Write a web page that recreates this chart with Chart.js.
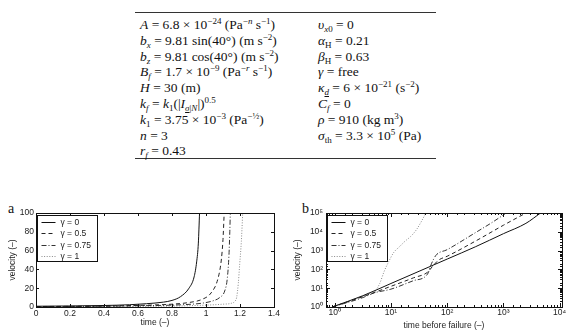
<!DOCTYPE html>
<html><head><meta charset="utf-8">
<script src="https://cdn.jsdelivr.net/npm/chart.js@4/dist/chart.umd.min.js"></script>
<style>
html,body{margin:0;padding:0;background:#fff;}
body{width:575px;height:331px;position:relative;overflow:hidden;font-family:"Liberation Serif",serif;color:#111;}
.rule{position:absolute;left:135px;width:301px;height:1px;background:#333;}
.col{position:absolute;top:17px;font-size:13.5px;line-height:15.8px;white-space:nowrap;}
.col div{height:15.8px;}
sup,sub{font-size:9px;line-height:0;position:relative;vertical-align:baseline;}
sup{top:-5px;} sub{top:3px;}
.pl{position:absolute;font-size:14px;font-family:"Liberation Serif",serif;}
canvas{position:absolute;}
</style>
</head><body>
<div class="rule" style="top:12px"></div>
<div class="rule" style="top:158px"></div>
<div class="col" style="left:140px">
<div><i>A</i> = 6.8 × 10<sup>−24</sup> (Pa<sup>−<i>n</i></sup> s<sup>−1</sup>)</div>
<div><i>b<sub>x</sub></i> = 9.81 sin(40°) (m s<sup>−2</sup>)</div>
<div><i>b<sub>z</sub></i> = 9.81 cos(40°) (m s<sup>−2</sup>)</div>
<div><i>B<sub>f</sub></i> = 1.7 × 10<sup>−9</sup> (Pa<sup>−<i>r</i></sup> s<sup>−1</sup>)</div>
<div><i>H</i> = 30 (m)</div>
<div><i>k<sub>f</sub></i> = <i>k</i><sub>1</sub>(|<i>I</i><sub><u><i>σ</i></u>|<i>N</i></sub>|)<sup>0.5</sup></div>
<div><i>k</i><sub>1</sub> = 3.75 × 10<sup>−3</sup> (Pa<sup>−½</sup>)</div>
<div><i>n</i> = 3</div>
<div><i>r<sub>f</sub></i> = 0.43</div>
</div>
<div class="col" style="left:318px">
<div><i>υ</i><sub><i>x</i>0</sub> = 0</div>
<div><i>α</i><sub>H</sub> = 0.21</div>
<div><i>β</i><sub>H</sub> = 0.63</div>
<div><i>γ</i> = free</div>
<div><i>κ</i><sub><u><i>d</i></u></sub> = 6 × 10<sup>−21</sup> (s<sup>−2</sup>)</div>
<div><i>C<sub>f</sub></i> = 0</div>
<div><i>ρ</i> = 910 (kg m<sup>3</sup>)</div>
<div><i>σ</i><sub>th</sub> = 3.3 × 10<sup>5</sup> (Pa)</div>
</div>
<div class="pl" style="left:8px;top:201px">a</div>
<div class="pl" style="left:302px;top:201px">b</div>
<canvas id="ca" width="287" height="131" style="left:0;top:200px"></canvas>
<canvas id="cb" width="290" height="131" style="left:285px;top:200px"></canvas>
<script>
// ---------- data ----------
const seriesLabels = ['γ = 0', 'γ = 0.5', 'γ = 0.75', 'γ = 1'];

// panel a: velocity vs time
const aTimeG0   = [0, 0.2, 0.4, 0.55, 0.65, 0.75, 0.8, 0.85, 0.9, 0.93, 0.945, 0.955, 0.962];
const aVelG0    = [0.8, 1.1, 1.6, 2.4, 3.5, 5.2, 7, 11, 20, 32, 48, 68, 100];
const aTimeG05  = [0, 0.3, 0.5, 0.7, 0.8, 0.9, 0.975, 1.03, 1.07, 1.09, 1.1, 1.107];
const aVelG05   = [0.5, 0.8, 1.3, 2.2, 3, 4.8, 8, 15, 30, 50, 72, 100];
const aTimeG075 = [0, 0.4, 0.6, 0.8, 0.9, 0.975, 1.04, 1.08, 1.11, 1.125, 1.135, 1.14, 1.143];
const aVelG075  = [0.3, 0.8, 1.3, 2, 2.8, 4, 6.5, 10, 17, 30, 55, 80, 100];
const aTimeG1   = [0, 0.5, 0.8, 1.0, 1.1, 1.15, 1.17, 1.18, 1.19, 1.198, 1.208, 1.216];
const aVelG1    = [0.2, 0.5, 1, 2, 3, 4, 6, 10, 25, 45, 70, 100];
const aXTicks = [0, 0.2, 0.4, 0.6, 0.8, 1, 1.2, 1.4];
const aXTickLabels = ['0', '0.2', '0.4', '0.6', '0.8', '1', '1.2', '1.4'];
const aYTicks = [0, 20, 40, 60, 80, 100];
const aYTickLabels = ['0', '20', '40', '60', '80', '100'];

// panel b: velocity vs time before failure (log-log)
const bTimeG0   = [0.9, 3.16, 10, 31.6, 100, 316, 1000, 2512, 4571];
const bVelG0    = [1, 3.98, 17.8, 79.4, 355, 1585, 7943, 28184, 100000];
const bTimeG05  = [0.9, 3.16, 10, 25.1, 44.7, 56.2, 70.8, 100, 316, 1000, 2512];
const bVelG05   = [1, 3.55, 12.6, 35.5, 70.8, 158, 316, 501, 3162, 22387, 100000];
const bTimeG075 = [0.9, 3.16, 5.01, 10, 25.1, 44.7, 52.5, 63.1, 100, 316, 631, 1122];
const bVelG075  = [1, 3.16, 5.62, 8.91, 25.1, 56.2, 200, 562, 1122, 8913, 31623, 100000];
const bTimeG1   = [0.9, 2.0, 3.98, 5.25, 6.31, 7.59, 8.91, 11.2, 14.1, 17.8, 22.4, 28.2, 35.5, 41.7];
const bVelG1    = [1, 2.24, 5.01, 7.08, 17.8, 79.4, 224, 794, 1585, 3162, 5623, 12589, 39811, 100000];
const bXTickLabels = ['10⁰', '10¹', '10²', '10³', '10⁴'];
const bYTickLabels = ['10⁰', '10¹', '10²', '10³', '10⁴', '10⁵'];

// ---------- styling ----------
const lineStyles = [
  {color:'#111', dash:[]},
  {color:'#222', dash:[4,3]},
  {color:'#333', dash:[5,2,1,2]},
  {color:'#8a8a8a', dash:[1,1.6]}
];
const tickFont = {family:'Liberation Sans', size:8.5};
const txtColor = '#222';

function pts(xs, ys){ return xs.map((x,i)=>({x:x, y:ys[i]})); }
function isPow10(v){ const l=Math.log10(v); return Math.abs(l-Math.round(l))<1e-6; }

function makeDatasets(pairs){
  return pairs.map((p,i)=>({
    label: seriesLabels[i],
    data: pts(p[0], p[1]),
    borderColor: lineStyles[i].color,
    borderDash: lineStyles[i].dash,
    borderWidth: 1,
    pointRadius: 0,
    fill: false,
    cubicInterpolationMode: 'monotone'
  }));
}

const matlabBox = {
  id: 'matlabBox',
  afterDatasetsDraw(chart, args, opts){
    const {ctx, chartArea: ca, scales} = chart;
    const xs = scales.x, ys = scales.y;
    ctx.save();
    ctx.strokeStyle = '#111';
    ctx.lineWidth = 1;
    ctx.setLineDash([]);
    ctx.beginPath();
    xs.ticks.forEach(t=>{
      const p = xs.getPixelForValue(t.value);
      if (p <= ca.left + 0.5 || p >= ca.right - 0.5) return;
      const L = opts.log ? (isPow10(t.value) ? 4 : 2) : 3;
      const px = Math.round(p) + 0.5;
      ctx.moveTo(px, ca.bottom); ctx.lineTo(px, ca.bottom - L);
      ctx.moveTo(px, ca.top); ctx.lineTo(px, ca.top + L);
    });
    ys.ticks.forEach(t=>{
      const p = ys.getPixelForValue(t.value);
      if (p <= ca.top + 0.5 || p >= ca.bottom - 0.5) return;
      const L = opts.log ? (isPow10(t.value) ? 4 : 2) : 3;
      const py = Math.round(p) + 0.5;
      ctx.moveTo(ca.left, py); ctx.lineTo(ca.left + L, py);
      ctx.moveTo(ca.right, py); ctx.lineTo(ca.right - L, py);
    });
    ctx.stroke();
    ctx.strokeRect(Math.round(ca.left)+0.5, Math.round(ca.top)+0.5, Math.round(ca.right-ca.left), Math.round(ca.bottom-ca.top));

    // legend box (matlab style)
    const bx = Math.round(ca.left) + 1.5, by = Math.round(ca.top) + 2.5, bw = 60, bh = 46;
    ctx.fillStyle = '#fff';
    ctx.fillRect(bx, by, bw, bh);
    ctx.strokeRect(bx, by, bw, bh);
    ctx.font = '8.5px "Liberation Sans"';
    ctx.textBaseline = 'middle';
    ctx.textAlign = 'left';
    chart.data.datasets.forEach((ds, i)=>{
      const yy = Math.round(by + 6.5 + i*11.3) + 0.5;
      ctx.strokeStyle = ds.borderColor;
      ctx.setLineDash(ds.borderDash);
      ctx.beginPath();
      ctx.moveTo(bx + 4, yy); ctx.lineTo(bx + 18, yy);
      ctx.stroke();
      ctx.fillStyle = txtColor;
      ctx.fillText(ds.label, bx + 23, yy);
    });
    ctx.restore();
  }
};

// ---------- chart a ----------
new Chart(document.getElementById('ca'), {
  type: 'line',
  data: { datasets: makeDatasets([[aTimeG0,aVelG0],[aTimeG05,aVelG05],[aTimeG075,aVelG075],[aTimeG1,aVelG1]]) },
  options: {
    responsive: false, animation: false,
    layout: { padding: {top:13, right:13, left:0, bottom:0} },
    plugins: { legend:{display:false}, tooltip:{enabled:false}, matlabBox:{log:false} },
    scales: {
      x: {
        type:'linear', min:0, max:1.4,
        afterBuildTicks(s){ s.ticks = aXTicks.map(v=>({value:v})); },
        afterFit(s){ s.height = 24; },
        grid:{display:false, drawTicks:false}, border:{display:false},
        ticks:{autoSkip:false, maxRotation:0, padding:2, font:tickFont, color:txtColor,
               callback:(v,i)=>aXTickLabels[i]},
        title:{display:true, text:'time (–)', font:tickFont, color:txtColor, padding:{top:0,bottom:3.4}}
      },
      y: {
        type:'linear', min:0, max:100,
        afterBuildTicks(s){ s.ticks = aYTicks.map(v=>({value:v})); },
        afterFit(s){ s.width = 36; },
        grid:{display:false, drawTicks:false}, border:{display:false},
        ticks:{autoSkip:false, padding:2, font:tickFont, color:txtColor,
               callback:(v,i)=>aYTickLabels[i]},
        title:{display:true, text:'velocity (–)', font:tickFont, color:txtColor, padding:{top:7.4,bottom:0}}
      }
    }
  },
  plugins: [matlabBox]
});

// ---------- chart b ----------
new Chart(document.getElementById('cb'), {
  type: 'line',
  data: { datasets: makeDatasets([[bTimeG0,bVelG0],[bTimeG05,bVelG05],[bTimeG075,bVelG075],[bTimeG1,bVelG1]]) },
  options: {
    responsive: false, animation: false,
    layout: { padding: {top:13, right:13, left:0, bottom:0} },
    plugins: { legend:{display:false}, tooltip:{enabled:false}, matlabBox:{log:true} },
    scales: {
      x: {
        type:'logarithmic', min:0.72, max:11000,
        afterFit(s){ s.height = 24; },
        grid:{display:false, drawTicks:false}, border:{display:false},
        ticks:{autoSkip:false, maxRotation:0, padding:1, font:tickFont, color:txtColor,
               callback:(v)=> isPow10(v) ? bXTickLabels[Math.round(Math.log10(v))] : ''},
        title:{display:true, text:'time before failure (–)', font:tickFont, color:txtColor, padding:{top:0,bottom:0}}
      },
      y: {
        type:'logarithmic', min:1, max:100000,
        afterFit(s){ s.width = 41; },
        grid:{display:false, drawTicks:false}, border:{display:false},
        ticks:{autoSkip:false, padding:3, font:tickFont, color:txtColor,
               callback:(v)=> isPow10(v) ? bYTickLabels[Math.round(Math.log10(v))] : ''},
        title:{display:true, text:'velocity (–)', font:tickFont, color:txtColor, padding:{top:7.4,bottom:0}}
      }
    }
  },
  plugins: [matlabBox]
});
</script>
</body></html>
